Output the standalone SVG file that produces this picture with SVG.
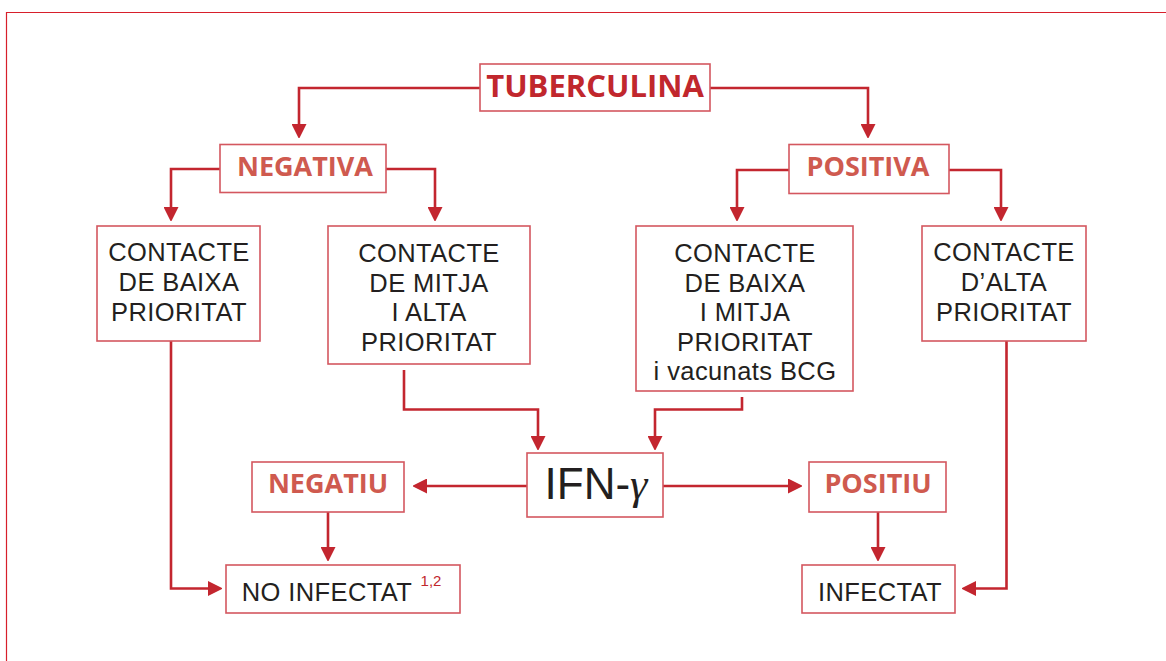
<svg xmlns="http://www.w3.org/2000/svg" width="1166" height="661" viewBox="0 0 1166 661">
<defs>
<style>
.frame{fill:none;stroke:#d71f2b;stroke-width:1.2}
.box{fill:#fff;stroke:#d4575f;stroke-width:1.6}
.conn{fill:none;stroke:#c3262f;stroke-width:2.6}
.t{font-family:"Liberation Sans","Open Sans",sans-serif;text-anchor:middle;fill:#231f20;font-size:25.5px;letter-spacing:0.4px}
.h{font-family:"Open Sans","Noto Sans","Liberation Sans",sans-serif;text-anchor:middle;font-weight:bold;fill:#cf5a4f;font-size:27px}
.title{fill:#c1272d;font-size:31px}
</style>
<marker id="ah" viewBox="0 0 14 15" refX="0" refY="7.5" markerWidth="14" markerHeight="15" markerUnits="userSpaceOnUse" orient="auto">
<path d="M0,0 L15,7.5 L0,15 Z" fill="#c3262f"/>
</marker>
</defs>
<rect width="1166" height="661" fill="#fff"/>
<path class="frame" d="M6.5,700 V12.5 H1200"/>
<g id="connectors">
<path class="conn" d="M480,88 H299 V124" marker-end="url(#ah)"/>
<path class="conn" d="M710,88 H868 V124" marker-end="url(#ah)"/>
<path class="conn" d="M220,169 H171 V207" marker-end="url(#ah)"/>
<path class="conn" d="M386,169 H435 V207" marker-end="url(#ah)"/>
<path class="conn" d="M789,170 H737 V207" marker-end="url(#ah)"/>
<path class="conn" d="M949,170 H1001 V207" marker-end="url(#ah)"/>
<path class="conn" d="M171,341 V588.5 H208" marker-end="url(#ah)"/>
<path class="conn" d="M1006.5,341 V588.5 H976" marker-end="url(#ah)"/>
<path class="conn" d="M404,370 V409.5 H538 V436" marker-end="url(#ah)"/>
<path class="conn" d="M742,397 V409.5 H655 V436" marker-end="url(#ah)"/>
<path class="conn" d="M527,486 H427" marker-end="url(#ah)"/>
<path class="conn" d="M663,486 H788" marker-end="url(#ah)"/>
<path class="conn" d="M328,512 V547" marker-end="url(#ah)"/>
<path class="conn" d="M878,512 V547" marker-end="url(#ah)"/>
</g>
<g id="tuberculina">
<rect class="box" x="480" y="64" width="230" height="47"/>
<text class="h title" x="595" y="97">TUBERCULINA</text>
</g>
<g id="negativa">
<rect class="box" x="220" y="144.5" width="166" height="48"/>
<text class="h" x="305" y="176">NEGATIVA</text>
</g>
<g id="positiva">
<rect class="box" x="789" y="144.5" width="160" height="49"/>
<text class="h" x="868" y="176">POSITIVA</text>
</g>
<g id="baixa">
<rect class="box" x="97" y="226" width="163" height="115"/>
<text class="t" x="179" y="261">CONTACTE</text>
<text class="t" x="179" y="291">DE BAIXA</text>
<text class="t" x="179" y="321">PRIORITAT</text>
</g>
<g id="mitja-alta">
<rect class="box" x="328" y="226" width="202" height="138"/>
<text class="t" x="429" y="262">CONTACTE</text>
<text class="t" x="429" y="291.5">DE MITJA</text>
<text class="t" x="429" y="321">I ALTA</text>
<text class="t" x="429" y="350.5">PRIORITAT</text>
</g>
<g id="baixa-mitja-bcg">
<rect class="box" x="636" y="226" width="217" height="165"/>
<text class="t" x="745" y="262">CONTACTE</text>
<text class="t" x="745" y="291.5">DE BAIXA</text>
<text class="t" x="745" y="321">I MITJA</text>
<text class="t" x="745" y="350.5">PRIORITAT</text>
<text class="t" x="745" y="380">i vacunats BCG</text>
</g>
<g id="alta">
<rect class="box" x="922" y="226" width="164" height="115"/>
<text class="t" x="1004" y="261">CONTACTE</text>
<text class="t" x="1004" y="291">D’ALTA</text>
<text class="t" x="1004" y="320.5">PRIORITAT</text>
</g>
<g id="ifn">
<rect class="box" x="527" y="453" width="136" height="64"/>
<text class="t" x="596" y="499" style="font-size:44px;letter-spacing:0">IFN-<tspan style="font-family:'Liberation Serif',serif;font-style:italic">γ</tspan></text>
</g>
<g id="negatiu">
<rect class="box" x="252" y="462" width="152" height="50"/>
<text class="h" x="328" y="493">NEGATIU</text>
</g>
<g id="positiu">
<rect class="box" x="809" y="462" width="137" height="50"/>
<text class="h" x="878" y="493">POSITIU</text>
</g>
<g id="no-infectat">
<rect class="box" x="226" y="565" width="234" height="48"/>
<text class="t" x="327" y="601">NO INFECTAT</text>
<text x="431" y="586" style="font-family:'Liberation Sans',sans-serif;font-size:15px;fill:#c1272d;text-anchor:middle">1,2</text>
</g>
<g id="infectat">
<rect class="box" x="802" y="565" width="153" height="48"/>
<text class="t" x="880" y="601">INFECTAT</text>
</g>
</svg>
